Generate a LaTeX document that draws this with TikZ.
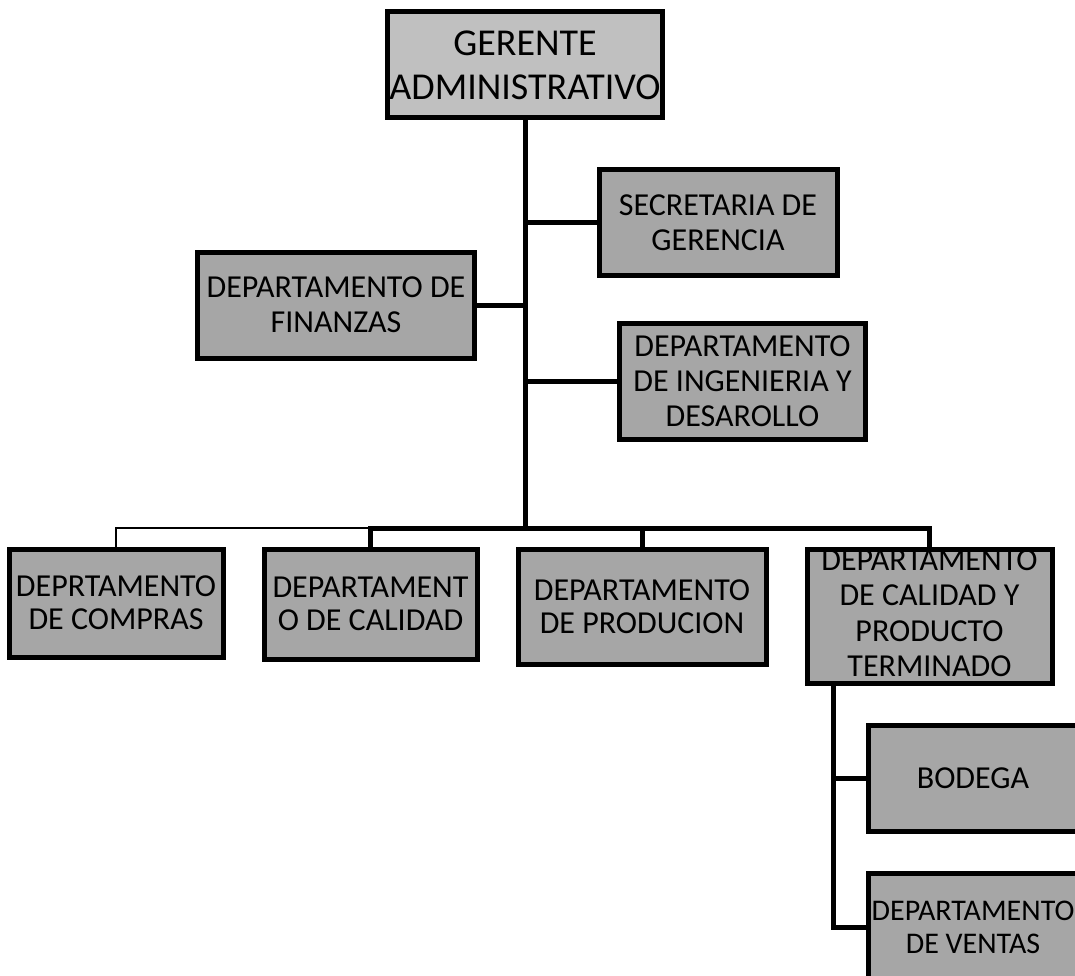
\documentclass[tikz,border=0pt]{standalone}
\usepackage{fontspec}
\setmainfont{Carlito}
\definecolor{topgray}{HTML}{C0C0C0}
\definecolor{boxgray}{HTML}{A6A6A6}
\tikzset{
  orgbox/.style={draw=black, line width=5pt, fill=boxgray, rectangle, align=center,
    inner sep=0pt, outer sep=0pt, font=\fontsize{32}{35}\selectfont},
  thick link/.style={draw=black, line width=5pt},
  thin link/.style={draw=black, line width=1.5pt},
}
\begin{document}
\begin{tikzpicture}[x=1pt,y=-1pt]
\useasboundingbox (0,0) rectangle (1075,976);
\clip (0,0) rectangle (1075,976);
% boxes
\node[orgbox, fill=topgray, minimum width=275pt, minimum height=106pt, font=\fontsize{38}{44}\selectfont]
  (top) at (525,65) {GERENTE\\ADMINISTRATIVO};
\node[orgbox, minimum width=238pt, minimum height=105pt] (sec) at (718,222.5) {SECRETARIA DE\\GERENCIA};
\node[orgbox, minimum width=277pt, minimum height=106pt] (fin) at (336,305) {DEPARTAMENTO DE\\FINANZAS};
\node[orgbox, minimum width=246pt, minimum height=116pt] (ing) at (742.5,381.5) {DEPARTAMENTO\\DE INGENIERIA Y\\DESAROLLO};
\node[orgbox, minimum width=214pt, minimum height=108pt, font=\fontsize{32}{33}\selectfont] (com) at (116,603) {DEPRTAMENTO\\DE COMPRAS};
\node[orgbox, minimum width=213pt, minimum height=110pt, font=\fontsize{32}{33}\selectfont] (cal) at (370.5,604) {DEPARTAMENT\\O DE CALIDAD};
\node[orgbox, minimum width=248pt, minimum height=115pt, font=\fontsize{32}{33}\selectfont] (pro) at (642,607) {DEPARTAMENTO\\DE PRODUCION};
\node[orgbox, draw=none, minimum width=245pt, minimum height=134pt] (cyp) at (929.5,616) {};
\node[align=center, inner sep=0pt, font=\fontsize{32}{35.5}\selectfont] (cyptext) at (929.5,613) {DEPARTAMENTO\\DE CALIDAD Y\\PRODUCTO\\TERMINADO};
\draw[line width=5pt] (cyp.south west) rectangle (cyp.north east);
\node[orgbox, minimum width=210pt, minimum height=106pt] (bod) at (973,778) {BODEGA};
\node[orgbox, minimum width=210pt, minimum height=108pt, font=\fontsize{30}{33}\selectfont] (ven) at (973,927) {DEPARTAMENTO\\DE VENTAS};
% connectors
\coordinate (j) at (525,528);
\coordinate (vtop) at (833,683);
\coordinate (vbot) at (833,927);
\draw[thick link] (top.south) -- (j);
\draw[thick link] (sec.west) -- (sec.west -| j);
\draw[thick link] (fin.east) -- (fin.east -| j);
\draw[thick link] (ing.west) -- (ing.west -| j);
\draw[thin link] (com.north) -- (com.north |- j) -- (cal.north |- j);
\draw[thick link] (cal.north) -- (cal.north |- j) -- (cyp.north |- j) -- (cyp.north);
\draw[thick link] (pro.north) -- (pro.north |- j);
\draw[thick link] (vtop) -- (vbot) -- (ven.west);
\draw[thick link] (bod.west) -- (bod.west -| vtop);
\end{tikzpicture}
\end{document}
